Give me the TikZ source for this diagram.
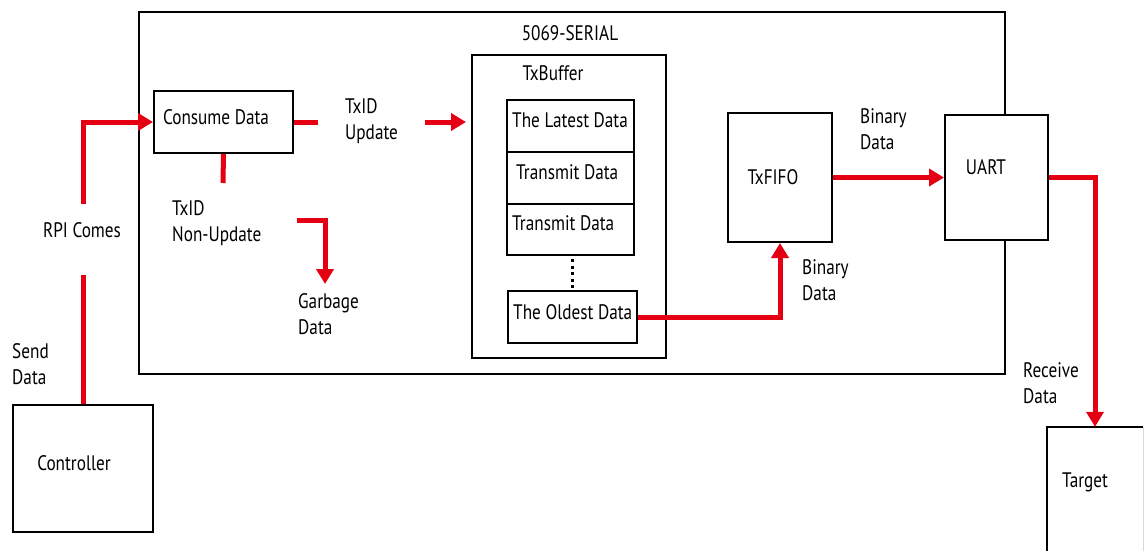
\documentclass[tikz,border=0pt]{standalone}
\usepackage{fontspec}
\setmainfont[FakeStretch=0.82]{PT Sans}
\usetikzlibrary{arrows.meta}
\definecolor{flow}{RGB}{228,0,18}
\tikzset{
  box/.style={draw=black, line width=2pt, fill=white, inner sep=0pt},
  lbl/.style={inner sep=0pt, align=left, font=\fontsize{21}{26}\selectfont},
  redline/.style={draw=flow, line width=5pt},
  redarrow/.style={draw=flow, line width=5pt, -{Triangle[length=15pt,width=17pt]}},
}
\begin{document}
\begin{tikzpicture}[x=1pt,y=-1pt]
\useasboundingbox (0,0) rectangle (1145,550);
\clip (0,0) rectangle (1145,550);
\fill[white] (0,0) rectangle (1145,550);
% main module
\node[box, fill=none, minimum width=866pt, minimum height=362pt] (serial) at (572,193) {};
\node[lbl, anchor=center] (serialt) at (570,33) {5069-SERIAL};
% consume data
\node[box, minimum width=139pt, minimum height=62pt] (consume) at (223.5,122) {};
\node[lbl] (consumet) at (216,117) {Consume Data};
% controller
\node[box, minimum width=140pt, minimum height=127pt] (ctrl) at (83,468.5) {};
\node[lbl] (ctrlt) at (74,463) {Controller};
% txbuffer
\node[box, minimum width=194pt, minimum height=303pt] (txbuf) at (569,206.5) {};
\node[lbl] (txbuft) at (553,73) {TxBuffer};
\node[box, minimum width=127pt, minimum height=52pt] (latest) at (570.5,126) {};
\node[box, minimum width=127pt, minimum height=52pt] (trans1) at (570.5,178) {};
\node[box, minimum width=127pt, minimum height=51pt] (trans2) at (570.5,229.5) {};
\node[box, minimum width=129pt, minimum height=52pt] (oldest) at (572.5,317) {};
\node[lbl, anchor=west] (latestt) at (512,120) {The Latest Data};
\node[lbl, anchor=west] (trans1t) at (516,172) {Transmit Data};
\node[lbl, anchor=west] (trans2t) at (512,223) {Transmit Data};
\node[lbl, anchor=west] (oldestt) at (513,312) {The Oldest Data};
\draw[line width=3pt, dash pattern=on 3pt off 3.5pt] (trans2.south -| 572,0) ++(0,3) coordinate (dotA) -- (572,289) coordinate (dotB);
% txfifo
\node[box, minimum width=104pt, minimum height=129pt] (txfifo) at (780,177.5) {};
\node[lbl] (txfifot) at (773,177) {TxFIFO};
% uart
\node[box, minimum width=103pt, minimum height=125pt] (uart) at (996.5,177.5) {};
\node[lbl] (uartt) at (986,167) {UART};
% target (cut by the picture edge)
\node[inner sep=0pt, minimum width=96pt, minimum height=146pt] (target) at (1095,500) {};
\draw[line width=2pt] (target.south west) |- (target.north east);
\draw[line width=1pt, black!15] (target.north east) -- (target.south east);
\node[lbl] (targett) at (1085,482) {Target};
% labels
\node[lbl, anchor=center] (rpit) at (82,230) {RPI Comes};
\node[lbl, anchor=west] (sendt) at (12,364) {Send\\Data};
\node[lbl, anchor=west] (updt) at (345,121.5) {TxID\\Update};
\node[lbl, anchor=west] (nupdt) at (172,223.5) {TxID\\Non-Update};
\node[lbl, anchor=west] (garbt) at (298,314.5) {Garbage\\Data};
\node[lbl, anchor=west] (bin1t) at (860,129.5) {Binary\\Data};
\node[lbl, anchor=west] (bin2t) at (802,280) {Binary\\Data};
\node[lbl, anchor=west] (recvt) at (1023,383.5) {Receive\\Data};
% connectors
\coordinate (rpiA) at (83,275);
\coordinate (rpiB) at (83,204);
\coordinate (updA) at (318,122);
\coordinate (updB) at (425,122);
\coordinate (updC) at (466,122);
\coordinate (nupA) at (223,183);
\coordinate (garA) at (297,220);
\coordinate (garB) at (325,220);
\coordinate (garC) at (325,284);
\draw[redline] (ctrl.north) -- (rpiA);
\draw[redarrow] (rpiB) |- (consume.west);
\draw[redline] (consume.east) -- (updA);
\draw[redarrow] (updB) -- (updC);
\draw[redline] (consume.south) -- (nupA);
\draw[redarrow] (garA) -- (garB) -- (garC);
\draw[redarrow] (oldest.east) -| (txfifo.south);
\draw[redarrow] (txfifo.east) -- (uart.west);
\draw[redarrow] (uart.east) -| (target.north);
\end{tikzpicture}
\end{document}
